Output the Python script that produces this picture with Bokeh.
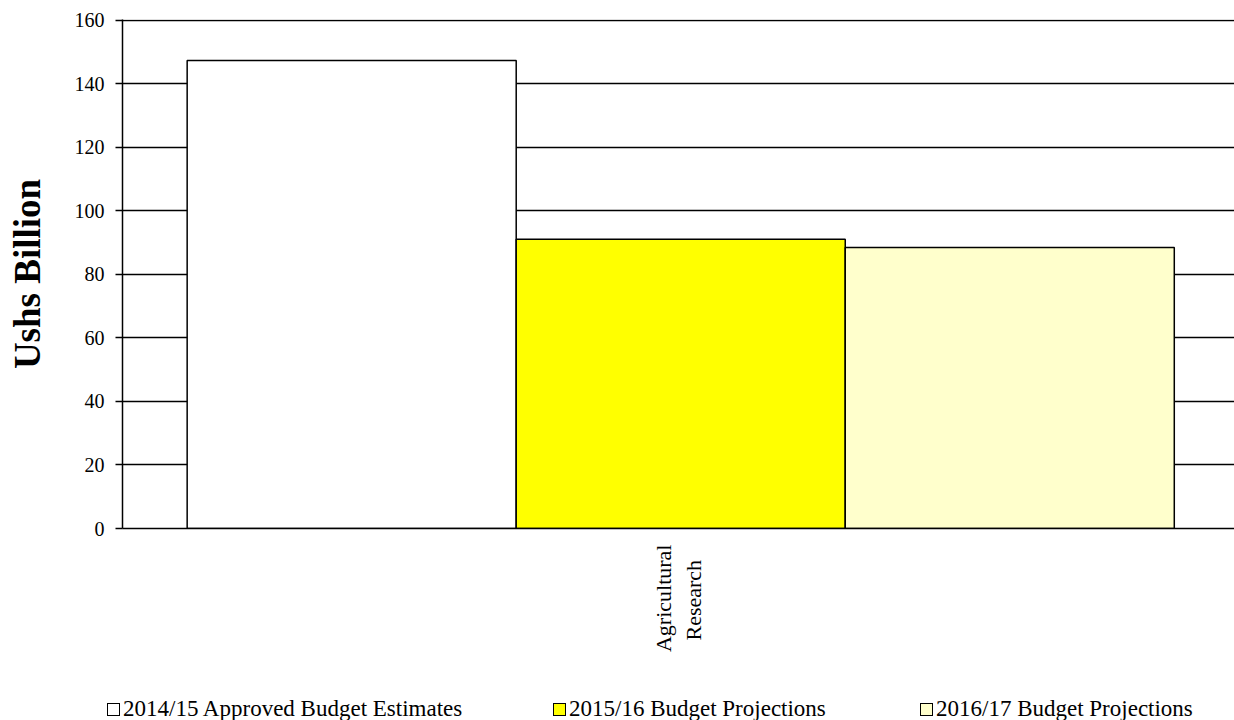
import math

from bokeh.plotting import figure
from bokeh.layouts import column
from bokeh.models import ColumnDataSource, FactorRange, Range1d, FixedTicker, Div
from bokeh.transform import dodge
from bokeh.embed import file_html
from bokeh.resources import INLINE

# Vote function output (Ushs Billion)
categories = ["Agricultural\nResearch\u00a0\u00a0\u2009"]
series_names = [
    "2014/15 Approved Budget Estimates",
    "2015/16 Budget Projections",
    "2016/17 Budget Projections",
]
approved_2014_15 = [147.4]
projection_2015_16 = [91.1]
projection_2016_17 = [88.5]
y_ticks = [0, 20, 40, 60, 80, 100, 120, 140, 160]

series_colors = ["#FFFFFF", "#FFFF00", "#FFFFCC"]
serif = "Liberation Serif"

source = ColumnDataSource(data=dict(
    cat=categories,
    s0=approved_2014_15,
    s1=projection_2015_16,
    s2=projection_2016_17,
))

p = figure(
    width=1234, height=690,
    x_range=FactorRange(factors=categories, range_padding=0),
    y_range=Range1d(0, 160.3),
    output_backend="svg", toolbar_location=None,
    min_border_left=122, min_border_right=0,
    min_border_top=19, min_border_bottom=162,
)
p.outline_line_color = None
p.background_fill_color = "white"
p.border_fill_color = "white"

# horizontal gridlines only
p.xgrid.grid_line_color = None
p.ygrid.grid_line_color = "black"
p.ygrid.grid_line_width = 1.6

# y axis
p.yaxis.ticker = FixedTicker(ticks=y_ticks)
p.yaxis.axis_line_color = "black"
p.yaxis.axis_line_width = 1.5
p.yaxis.major_tick_line_color = "black"
p.yaxis.major_tick_line_width = 1.5
p.yaxis.major_tick_out = 7
p.yaxis.major_tick_in = 0
p.yaxis.minor_tick_line_color = None
p.yaxis.major_label_text_font = serif
p.yaxis.major_label_text_font_size = "20px"
p.yaxis.major_label_text_color = "black"
p.yaxis.major_label_standoff = 11
p.yaxis.axis_label = "Ushs Billion"
p.yaxis.axis_label_text_font = serif
p.yaxis.axis_label_text_font_size = "37px"
p.yaxis.axis_label_text_font_style = "bold"
p.yaxis.axis_label_text_color = "black"
p.yaxis.axis_label_standoff = 24

# category axis
p.xaxis.axis_line_color = "black"
p.xaxis.axis_line_width = 1.5
p.xaxis.major_tick_line_color = None
p.xaxis.minor_tick_line_color = None
p.xaxis.major_label_orientation = math.pi / 2
p.xaxis.major_label_text_font = serif
p.xaxis.major_label_text_font_size = "22px"
p.xaxis.major_label_text_color = "black"
p.xaxis.major_label_standoff = 10

bar_width = 0.2959
shift = 0.002
offsets = [-bar_width + shift, shift, bar_width + shift]
for i, (off, col) in enumerate(zip(offsets, series_colors)):
    p.vbar(x=dodge("cat", off, range=p.x_range), top=f"s{i}",
           width=bar_width, bottom=0, source=source,
           fill_color=col, line_color="black", line_width=1.5)

# key strip under the chart
key_left = [107, 553, 920]
key_items = []
for name, col, left in zip(series_names, series_colors, key_left):
    key_items.append(
        f'<div style="position:absolute;left:{left}px;top:9px;height:20px;'
        f'display:flex;align-items:center;white-space:nowrap;'
        f"font-family:'{serif}';font-size:23px;color:#000;\">"
        f'<span style="display:inline-block;box-sizing:border-box;width:13px;'
        f'height:13px;border:1.5px solid #000;background:{col};'
        f'margin-right:3px;"></span>{name}</div>'
    )
key = Div(
    text='<div style="position:relative;width:1234px;height:30px;">'
         + "".join(key_items) + "</div>",
    width=1234, height=30, margin=0,
)

open("out.html", "w").write(file_html(column(p, key, spacing=0), INLINE))
